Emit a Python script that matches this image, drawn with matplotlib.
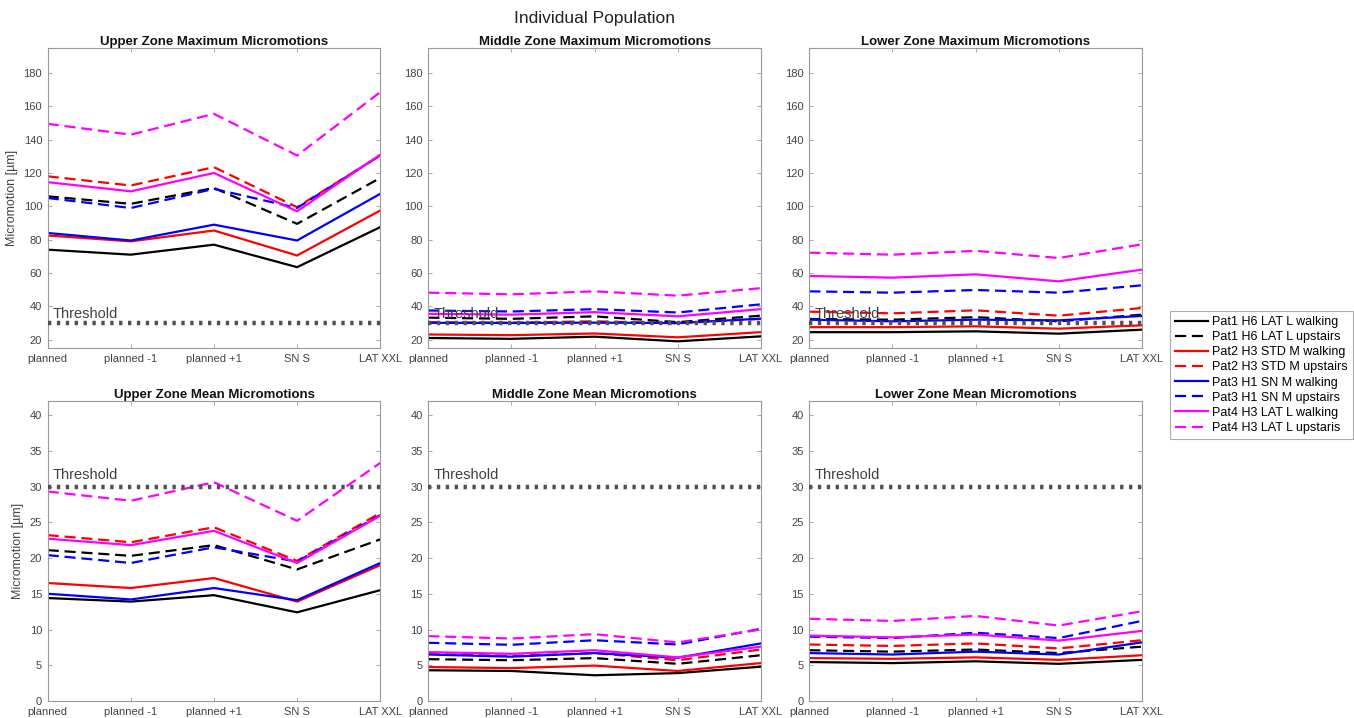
import matplotlib
matplotlib.use("Agg")
import matplotlib.pyplot as plt

plt.rcParams['font.family'] = ['Liberation Sans', 'DejaVu Sans']

categories = ["planned", "planned -1", "planned +1", "SN S", "LAT XXL"]

series_labels = [
    "Pat1 H6 LAT L walking", "Pat1 H6 LAT L upstairs",
    "Pat2 H3 STD M walking", "Pat2 H3 STD M upstairs",
    "Pat3 H1 SN M walking", "Pat3 H1 SN M upstairs",
    "Pat4 H3 LAT L walking", "Pat4 H3 LAT L upstaris",
]
series_colors = ["black", "black", "red", "red", "blue", "blue", "magenta", "magenta"]
series_dashed = [False, True, False, True, False, True, False, True]

threshold = 30

upper_max = [
    [74, 71, 77, 63.5, 87.5],
    [106, 101.5, 111, 89.5, 117],
    [82.5, 79, 85.5, 70.5, 97.5],
    [118, 112.5, 123.5, 99.5, 130.5],
    [84, 79.5, 89, 79.5, 107.5],
    [105, 99, 110.5, 99, 130.5],
    [114.5, 109, 120, 97, 131],
    [149.5, 143, 155.5, 130.5, 168.5],
]
middle_max = [
    [21, 20.5, 21.8, 19, 22],
    [33.2, 32.5, 34, 30.5, 34.4],
    [23.1, 22.7, 23.7, 21.4, 24.5],
    [30.5, 30.2, 31, 29.8, 32.5],
    [30.1, 30, 30.2, 30, 32.6],
    [37.5, 36.9, 38.3, 36.3, 41.2],
    [35.5, 35, 36.5, 34, 38.3],
    [48.2, 47.2, 49, 46.4, 50.9],
]
lower_max = [
    [24.5, 24.5, 25, 23.6, 26],
    [32.4, 32, 33.5, 31, 35],
    [27.5, 27.5, 28, 26.6, 28.6],
    [36.8, 35.8, 37.6, 34.4, 39],
    [32, 31, 32, 31.6, 34.2],
    [49, 48.2, 49.8, 48.2, 52.6],
    [58.2, 57.2, 59.2, 55, 62],
    [72.2, 71, 73.3, 69, 77.2],
]
upper_mean = [
    [14.4, 13.9, 14.8, 12.4, 15.5],
    [21.1, 20.3, 21.8, 18.4, 22.6],
    [16.5, 15.8, 17.2, 13.9, 19],
    [23.2, 22.2, 24.3, 19.6, 26.3],
    [15, 14.2, 15.8, 14.1, 19.3],
    [20.4, 19.3, 21.5, 19.5, 26.0],
    [22.7, 21.8, 23.8, 19.3, 25.9],
    [29.3, 28, 30.6, 25.2, 33.3],
]
middle_mean = [
    [4.3, 4.2, 3.6, 3.9, 4.8],
    [5.85, 5.7, 6.0, 5.2, 6.4],
    [4.75, 4.6, 4.95, 4.2, 5.3],
    [6.6, 6.3, 6.7, 5.7, 7.2],
    [6.5, 6.2, 6.7, 6.05, 8.05],
    [8.14, 7.86, 8.5, 7.9, 10.1],
    [6.84, 6.6, 7.1, 6.1, 7.6],
    [9.07, 8.74, 9.35, 8.19, 10.0],
]
lower_mean = [
    [5.45, 5.3, 5.55, 5.2, 5.75],
    [7.1, 6.9, 7.2, 6.7, 7.6],
    [6.0, 5.9, 6.1, 5.75, 6.4],
    [7.9, 7.7, 8.05, 7.35, 8.5],
    [6.7, 6.5, 6.9, 6.5, 8.2],
    [9.0, 8.8, 9.55, 8.8, 11.2],
    [9.15, 8.9, 9.3, 8.45, 9.8],
    [11.5, 11.2, 11.9, 10.55, 12.55],
]

panel_titles = [
    "Upper Zone Maximum Micromotions", "Middle Zone Maximum Micromotions", "Lower Zone Maximum Micromotions",
    "Upper Zone Mean Micromotions", "Middle Zone Mean Micromotions", "Lower Zone Mean Micromotions",
]
panel_data = [upper_max, middle_max, lower_max, upper_mean, middle_mean, lower_mean]

W, H = 1354, 718
fig = plt.figure(figsize=(W / 100, H / 100), dpi=100)

col_left = [47.7, 428.3, 809.3]
col_w = 332.5
row_top = [48, 400.7]
row_bot = [348, 701]

gray_text = "#444444"
spine_c = "#9a9a9a"
x = list(range(len(categories)))

axes = []
for i, (title, data) in enumerate(zip(panel_titles, panel_data)):
    r, c = divmod(i, 3)
    ax = fig.add_axes([col_left[c] / W, 1 - row_bot[r] / H, col_w / W, (row_bot[r] - row_top[r]) / H])
    axes.append(ax)
    for vals, col, dsh, lab in zip(data, series_colors, series_dashed, series_labels):
        ln, = ax.plot(x, vals, color=col, lw=1.6, label=lab)
        if dsh:
            ln.set_dashes((5, 2.6))
    ax.plot([x[0], x[-1]], [threshold, threshold], color="#505050", lw=3.2,
            linestyle=(0, (0.75, 1.25)), dash_capstyle="butt", zorder=5)
    if r == 0:
        ax.set_ylim(15, 195)
        ax.set_yticks(range(20, 181, 20))
        ax.text(0.06, threshold + 3, "Threshold", fontsize=10.5, color="#404040", zorder=6)
    else:
        ax.set_ylim(0, 42)
        ax.set_yticks(range(0, 41, 5))
        ax.text(0.06, threshold + 1.0, "Threshold", fontsize=10.5, color="#404040", zorder=6)
    ax.set_xlim(0, 4)
    ax.set_xticks(x)
    ax.set_xticklabels(categories)
    ax.set_title(title, fontsize=9.5, fontweight="bold", color="#111111", pad=2)
    ax.tick_params(direction="in", top=True, right=True, length=3, width=0.6,
                   labelsize=8, labelcolor=gray_text, color=spine_c, pad=4)
    for s in ax.spines.values():
        s.set_color(spine_c)
        s.set_linewidth(0.8)
    if c == 0:
        ax.set_ylabel("Micromotion [\u00b5m]", fontsize=9, color=gray_text, labelpad=4)

fig.text((col_left[0] + col_left[2] + col_w) / 2 / W, 1 - 18 / H, "Individual Population",
         ha="center", va="center", fontsize=12.5, color="#222222")

handles, labels = axes[0].get_legend_handles_labels()
leg = fig.legend(handles[:8], labels[:8], loc="center left",
                 bbox_to_anchor=(1170 / W, 1 - 375 / H), fontsize=9,
                 frameon=True, fancybox=False, edgecolor="#999999",
                 handlelength=2.6, handletextpad=0.4, labelspacing=0.25,
                 borderpad=0.4, borderaxespad=0)
leg.get_frame().set_linewidth(0.8)

fig.savefig("out.png", dpi=100)
